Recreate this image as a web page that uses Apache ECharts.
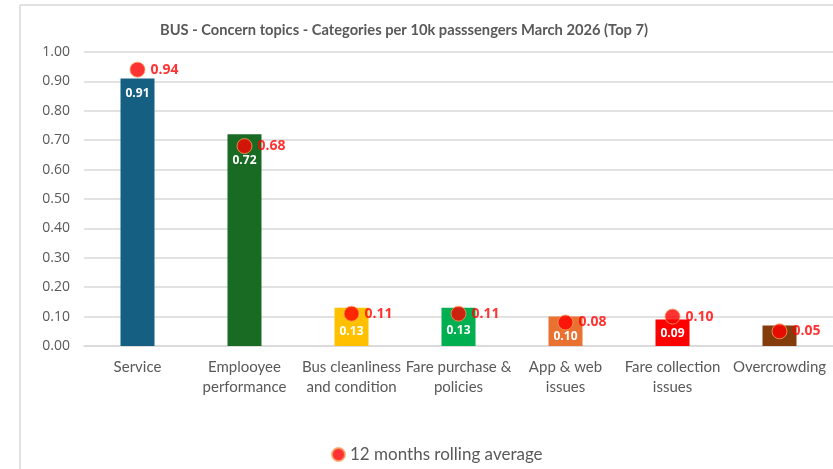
<!DOCTYPE html>
<html>
<head>
<meta charset="utf-8">
<script src="https://cdn.jsdelivr.net/npm/echarts@6/dist/echarts.min.js"></script>
<style>
  html, body { margin: 0; padding: 0; background: #ffffff; }
  #chart { width: 833px; height: 469px; }
</style>
</head>
<body>
<div id="chart"></div>
<script>
// Concern topic categories (bus), per 10k passengers
const categories = [
  'Service',
  'Emplooyee\nperformance',
  'Bus cleanliness\nand condition',
  'Fare purchase &\npolicies',
  'App & web\nissues',
  'Fare collection\nissues',
  'Overcrowding'
];
// March 2026 values
const marchValues = [0.91, 0.72, 0.13, 0.13, 0.10, 0.09, 0.07];
// 12 months rolling average
const rollingAvg = [0.94, 0.68, 0.11, 0.11, 0.08, 0.10, 0.05];
const yTicks = [0, 1, 0.1];

const barColors = ['#156082', '#196B24', '#FFC000', '#00B050', '#E97132', '#FF0000', '#843C0C'];
// distance of each bar's value label below the bar top (null = no label)
const barLabelDistance = [9, 20, 18, 17, 14, 8, null];

const font = 'Lato, "Open Sans", sans-serif';
const numFont = '"Open Sans", "Noto Sans", sans-serif';
const grey = '#595959';

const chart = echarts.init(document.getElementById('chart'), null, { renderer: 'canvas' });

chart.setOption({
  backgroundColor: '#ffffff',
  animation: false,
  title: {
    text: 'BUS - Concern topics - Categories per 10k passsengers March 2026 (Top 7)',
    left: 155,
    top: 18,
    textStyle: { fontFamily: font, fontSize: 14.7, fontWeight: 'bold', color: grey }
  },
  graphic: [
    { type: 'line', shape: { x1: 20, y1: 5, x2: 833, y2: 5 }, style: { stroke: '#d9d9d9', lineWidth: 1.5 } },
    { type: 'line', shape: { x1: 20, y1: 5, x2: 20, y2: 469 }, style: { stroke: '#d9d9d9', lineWidth: 1.5 } }
  ],
  legend: {
    data: ['12 months rolling average'],
    left: 326,
    top: 441,
    icon: 'circle',
    itemWidth: 13,
    itemHeight: 13,
    itemGap: 5,
    textStyle: { fontFamily: font, fontSize: 17, color: grey }
  },
  grid: { left: 84, right: -5, top: 52, bottom: 123, containLabel: false },
  xAxis: {
    type: 'category',
    data: categories,
    axisLine: { lineStyle: { color: '#d9d9d9', width: 1.5 } },
    axisTick: { show: false },
    axisLabel: {
      interval: 0,
      margin: 11,
      fontFamily: font,
      fontSize: 15,
      lineHeight: 20,
      color: grey
    }
  },
  yAxis: {
    type: 'value',
    min: yTicks[0],
    max: yTicks[1],
    interval: yTicks[2],
    axisLine: { show: false },
    axisTick: { show: false },
    splitLine: { lineStyle: { color: '#d9d9d9', width: 1.5 } },
    axisLabel: {
      margin: 14,
      fontFamily: numFont,
      fontSize: 14,
      color: grey,
      formatter: v => v.toFixed(2)
    }
  },
  series: [
    {
      name: 'March 2026',
      type: 'bar',
      barWidth: 34,
      data: marchValues.map((v, i) => ({
        value: v,
        itemStyle: { color: barColors[i] },
        label: barLabelDistance[i] === null
          ? { show: false }
          : { show: true, distance: barLabelDistance[i] }
      })),
      label: {
        show: true,
        position: 'insideTop',
        fontFamily: numFont,
        fontSize: 12,
        fontWeight: 'bold',
        color: '#ffffff',
        formatter: p => p.value.toFixed(2)
      },
      z: 2
    },
    {
      name: '12 months rolling average',
      type: 'scatter',
      data: rollingAvg,
      symbol: 'circle',
      symbolSize: 15,
      itemStyle: { color: '#FF0000', borderColor: '#F4A460', borderWidth: 1 },
      label: {
        show: true,
        position: 'right',
        distance: 5,
        fontFamily: numFont,
        fontSize: 14,
        fontWeight: 'bold',
        color: '#FF0000',
        formatter: p => p.value.toFixed(2)
      },
      z: 3
    }
  ]
});
</script>
</body>
</html>
